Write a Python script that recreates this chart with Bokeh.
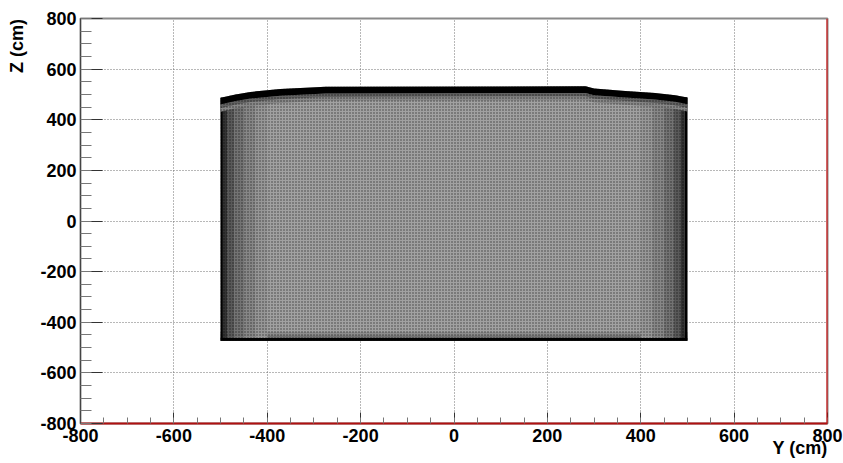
import numpy as np
from bokeh.plotting import figure
from bokeh.models import (Range1d, SingleIntervalTicker, Span,
                          ColumnDataSource, PrintfTickFormatter)
from bokeh.palettes import Greys256
from bokeh.transform import linear_cmap
from bokeh.embed import file_html
from bokeh.resources import INLINE

# ---- axes ----
Y_LIMITS = [-800, 800]
Z_LIMITS = [-800, 800]
TICK_STEP = 200
X_TITLE = "Y (cm)"
Y_TITLE = "Z (cm)"

# ---- outline of the populated region (cm) ----
TOP_Y = [-500, -468, -436, -372, -275, 282, 300, 367, 431, 474, 500]
TOP_Z = [487, 500, 510, 521, 530, 532, 523, 514, 506, 497, 488]
Z_BOTTOM = -473

# ---- relative point density (0 = empty, 1 = saturated) ----
CENTER_DENSITY = 0.37
LEFT_EDGES = [-500, -495, -485, -470, -450, -425, -400]
LEFT_DENSITY = [1.0, 0.8, 0.65, 0.55, 0.47, 0.41]
RIGHT_EDGES = [400, 425, 450, 470, 485, 494, 500]
RIGHT_DENSITY = [0.41, 0.47, 0.55, 0.65, 0.8, 1.0]
TOP_DEPTHS = [0, 26, 40, 55]      # cm below the top outline
TOP_DENSITY = [1.0, 0.62, 0.47]
BOTTOM_HEIGHTS = [0, 11, 22, 34]  # cm above the bottom edge
BOTTOM_DENSITY = [1.0, 0.55, 0.45]

palette = list(Greys256)[::-1]    # 0 -> white, 1 -> black
cmap = linear_cmap("density", palette, 0, 1)

p = figure(width=843, height=463,
           x_range=Range1d(*Y_LIMITS), y_range=Range1d(*Z_LIMITS),
           output_backend="svg", toolbar_location=None,
           min_border_left=80, min_border_right=16,
           min_border_top=18, min_border_bottom=40)

# body
body_x = [TOP_Y[0]] + TOP_Y + [TOP_Y[-1]]
body_z = [Z_BOTTOM] + TOP_Z + [Z_BOTTOM]
body = ColumnDataSource(dict(xs=[body_x], ys=[body_z], density=[CENTER_DENSITY]))
p.patches("xs", "ys", source=body, fill_color=cmap, line_color=None)

# bottom fade (interior only, the dense side walls are drawn over it)
nb = len(BOTTOM_DENSITY)
bot = ColumnDataSource(dict(
    left=[TOP_Y[0]] * nb, right=[TOP_Y[-1]] * nb,
    bottom=[Z_BOTTOM + h for h in BOTTOM_HEIGHTS[:-1]],
    top=[Z_BOTTOM + h for h in BOTTOM_HEIGHTS[1:]],
    density=BOTTOM_DENSITY))
p.quad(left="left", right="right", top="top", bottom="bottom", source=bot,
       fill_color=cmap, line_color=None)

# side walls
side = ColumnDataSource(dict(
    left=LEFT_EDGES[:-1] + RIGHT_EDGES[:-1],
    right=LEFT_EDGES[1:] + RIGHT_EDGES[1:],
    top=[TOP_Z[0]] * len(LEFT_DENSITY) + [TOP_Z[-1]] * len(RIGHT_DENSITY),
    bottom=[Z_BOTTOM + BOTTOM_HEIGHTS[1]] * (len(LEFT_DENSITY) + len(RIGHT_DENSITY)),
    density=LEFT_DENSITY + RIGHT_DENSITY))
p.quad(left="left", right="right", top="top", bottom="bottom", source=side,
       fill_color=cmap, line_color=None)

# solid bottom edge
edge = ColumnDataSource(dict(left=[TOP_Y[0]], right=[TOP_Y[-1]],
                             bottom=[Z_BOTTOM + BOTTOM_HEIGHTS[0]],
                             top=[Z_BOTTOM + BOTTOM_HEIGHTS[1]],
                             density=[BOTTOM_DENSITY[0]]))
p.quad(left="left", right="right", top="top", bottom="bottom", source=edge,
       fill_color=cmap, line_color=None)

# top edge
tz = np.array(TOP_Z, dtype=float)
txs, tys = [], []
for i in range(len(TOP_DENSITY)):
    upper = tz - TOP_DEPTHS[i]
    lower = tz - TOP_DEPTHS[i + 1]
    txs.append(TOP_Y + TOP_Y[::-1])
    tys.append(list(upper) + list(lower[::-1]))
top = ColumnDataSource(dict(xs=txs[::-1], ys=tys[::-1], density=TOP_DENSITY[::-1]))
p.patches("xs", "ys", source=top, fill_color=cmap, line_color=None)

# speckle texture
tex = ColumnDataSource(dict(xs=[body_x], ys=[body_z]))
p.patches("xs", "ys", source=tex, fill_alpha=0, line_color=None,
          hatch_pattern=".", hatch_color="black", hatch_alpha=0.6, hatch_scale=3)

# ---- axes styling (ROOT look) ----
# titles sit at the axis end: the label is centred on the end point, so it is
# padded with no-break spaces of the same width to push the visible text inward
PAD = "\u00a0" * 11
for ax, tin, minin, title in ((p.xaxis[0], 11, 6, X_TITLE), (p.yaxis[0], 22, 11, Y_TITLE)):
    ax.ticker = SingleIntervalTicker(interval=TICK_STEP, num_minor_ticks=4)
    ax.formatter = PrintfTickFormatter(format="%d")
    ax.major_tick_out = 0
    ax.minor_tick_out = 0
    ax.major_tick_in = tin
    ax.minor_tick_in = minin
    ax.major_tick_line_color = "#333333"
    ax.minor_tick_line_color = "#777777"
    ax.major_label_text_font = "Liberation Sans"
    ax.major_label_text_font_style = "bold"
    ax.major_label_text_font_size = "18px"
    ax.major_label_text_color = "black"
    ax.axis_label = title + PAD
    ax.axis_label_text_font = "Liberation Sans"
    ax.axis_label_text_font_style = "bold"
    ax.axis_label_text_font_size = "18px"
    ax.axis_label_text_color = "black"
    ax.axis_label_align = "end"
p.xaxis.major_label_standoff = 5
p.yaxis.major_label_standoff = 4
p.xaxis.axis_label_standoff = -7
p.yaxis.axis_label_standoff = 10
p.xaxis.axis_line_color = "#b01010"
p.xaxis.axis_line_width = 2
p.yaxis.axis_line_color = "#444444"
p.yaxis.axis_line_width = 1

for g in (p.xgrid[0], p.ygrid[0]):
    g.ticker = SingleIntervalTicker(interval=TICK_STEP)
    g.grid_line_color = "#707070"
    g.grid_line_dash = "1 2"
    g.grid_line_width = 1

p.outline_line_color = "#8a8a8a"
p.outline_line_width = 2
p.background_fill_color = "white"
p.border_fill_color = "white"

p.add_layout(Span(location=Y_LIMITS[1], dimension="height",
                  line_color="#dd0000", line_width=2))

open("out.html", "w").write(file_html(p, INLINE))
